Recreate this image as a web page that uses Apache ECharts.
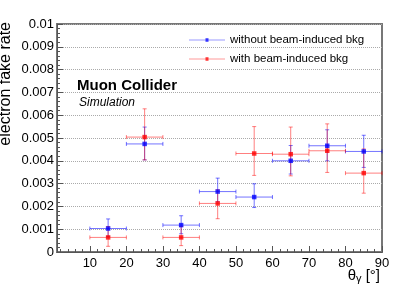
<!DOCTYPE html>
<html>
<head>
<meta charset="utf-8">
<script src="https://cdn.jsdelivr.net/npm/echarts@6/dist/echarts.min.js"></script>
<style>html,body{margin:0;padding:0;background:#fff;}#c{width:399px;height:288px;}</style>
</head>
<body>
<div id="c"></div>
<script>
// ---- data ----
var thetaCenters = [15, 25, 35, 45, 55, 65, 75, 85];
var binHalfWidth = [5, 5, 5, 5, 5, 5, 5, 5];
var noBkgRate     = [0.00103, 0.00474, 0.00118, 0.00265, 0.00241, 0.00400, 0.00466, 0.00441];
var noBkgErrUp    = [0.00042, 0.00074, 0.00041, 0.00059, 0.00058, 0.00067, 0.00070, 0.00071];
var noBkgErrDown  = [0.00035, 0.00070, 0.00038, 0.00045, 0.00046, 0.00058, 0.00066, 0.00070];
var withBkgRate    = [0.00064, 0.00504, 0.00064, 0.00213, 0.00432, 0.00429, 0.00444, 0.00346];
var withBkgErrUp   = [0.00048, 0.00124, 0.00048, 0.00060, 0.00118, 0.00119, 0.00118, 0.00106];
var withBkgErrDown = [0.00039, 0.00100, 0.00036, 0.00067, 0.00096, 0.00095, 0.00095, 0.00088];
var xMajorTicks = [10, 20, 30, 40, 50, 60, 70, 80, 90];
var xMinorTicks = [2, 4, 6, 8, 12, 14, 16, 18, 22, 24, 26, 28, 32, 34, 36, 38, 42, 44, 46, 48,
                   52, 54, 56, 58, 62, 64, 66, 68, 72, 74, 76, 78, 82, 84, 86, 88];
var seriesNames = ['without beam-induced bkg', 'with beam-induced bkg'];

var FONT = 'Liberation Sans, Arial, Helvetica, sans-serif';

function errData(rate, up, down) {
  return thetaCenters.map(function (x, i) {
    return [x, rate[i], x - binHalfWidth[i], x + binHalfWidth[i], rate[i] - down[i], rate[i] + up[i]];
  });
}
function pointData(rate) {
  return thetaCenters.map(function (x, i) { return [x, rate[i]]; });
}
function errRender(color) {
  return function (params, api) {
    var c = api.coord([api.value(0), api.value(1)]);
    var l = api.coord([api.value(2), api.value(1)]);
    var r = api.coord([api.value(3), api.value(1)]);
    var lo = api.coord([api.value(0), api.value(4)]);
    var hi = api.coord([api.value(0), api.value(5)]);
    var st = { stroke: color, lineWidth: 1 };
    var cap = 2;
    return {
      type: 'group',
      children: [
        { type: 'line', shape: { x1: l[0], y1: c[1], x2: r[0], y2: c[1] }, style: st },
        { type: 'line', shape: { x1: c[0], y1: lo[1], x2: c[0], y2: hi[1] }, style: st },
        { type: 'line', shape: { x1: l[0], y1: c[1] - cap, x2: l[0], y2: c[1] + cap }, style: st },
        { type: 'line', shape: { x1: r[0], y1: c[1] - cap, x2: r[0], y2: c[1] + cap }, style: st },
        { type: 'line', shape: { x1: c[0] - cap, y1: lo[1], x2: c[0] + cap, y2: lo[1] }, style: st },
        { type: 'line', shape: { x1: c[0] - cap, y1: hi[1], x2: c[0] + cap, y2: hi[1] }, style: st }
      ]
    };
  };
}

var chart = echarts.init(document.getElementById('c'), null, { renderer: 'canvas' });
var legendIcon = 'path://M0,3.2L36,3.2L36,3.8L0,3.8Z M16.5,1.8L19.5,1.8L19.5,5.2L16.5,5.2Z';

chart.setOption({
  animation: false,
  backgroundColor: '#fff',
  grid: { left: 57, right: 17, top: 24, bottom: 36, show: true, borderColor: '#777', borderWidth: 2, backgroundColor: 'transparent' },
  legend: {
    data: [{ name: seriesNames[0], icon: legendIcon }, { name: seriesNames[1], icon: legendIcon }],
    orient: 'vertical', left: 189, top: 34, padding: 0, itemGap: 7,
    itemWidth: 36, itemHeight: 7,
    textStyle: { fontFamily: FONT, fontSize: 11.5, color: '#000' }
  },
  xAxis: [{
    type: 'value', min: 1, max: 90,
    axisLine: { show: true, lineStyle: { color: '#555', width: 1 } },
    axisTick: { show: true, inside: true, length: 6, customValues: xMajorTicks, lineStyle: { color: '#555' } },
    axisLabel: { customValues: xMajorTicks, fontFamily: FONT, fontSize: 13, color: '#000', margin: 5 },
    splitLine: { show: false }
  }, {
    type: 'value', min: 1, max: 90, position: 'bottom',
    axisLine: { show: false },
    axisTick: { show: true, inside: true, length: 3, customValues: xMinorTicks, lineStyle: { color: '#555' } },
    axisLabel: { show: false },
    splitLine: { show: false }
  }],
  yAxis: {
    type: 'value', min: 0, max: 0.01, interval: 0.001,
    axisLine: { show: true, lineStyle: { color: '#555', width: 1 } },
    axisTick: { show: true, inside: true, length: 6, lineStyle: { color: '#555' } },
    minorTick: { show: true, splitNumber: 5, length: 3, lineStyle: { color: '#555' } },
    axisLabel: {
      fontFamily: FONT, fontSize: 13, color: '#000', margin: 3,
      formatter: function (v) { return String(parseFloat(v.toFixed(4))); }
    },
    splitLine: { show: true, lineStyle: { color: '#aaa', type: 'dotted', width: 1 } }
  },
  graphic: [
    { type: 'text', rotation: Math.PI / 2, x: 6, y: 22,
      style: { text: 'electron fake rate', font: '16px ' + FONT, fill: '#000', textAlign: 'right', textVerticalAlign: 'middle' } },
    { type: 'text', x: 77, y: 86,
      style: { text: 'Muon Collider', font: 'bold 15px ' + FONT, fill: '#000', textAlign: 'left', textVerticalAlign: 'middle' } },
    { type: 'text', x: 79, y: 103,
      style: { text: 'Simulation', font: 'italic 12px ' + FONT, fill: '#000', textAlign: 'left', textVerticalAlign: 'middle' } },
    { type: 'text', x: 380, y: 276,
      style: {
        text: '{t|θ}{s|γ}{t| [°]}', textAlign: 'right', textVerticalAlign: 'middle',
        rich: { t: { fontFamily: FONT, fontSize: 15, fill: '#000' }, s: { fontFamily: FONT, fontSize: 11, fill: '#000', padding: [6, 0, 0, 0] } }
      } }
  ],
  series: [
    { type: 'custom', name: seriesNames[0] + ' err', renderItem: errRender('rgba(0,0,255,0.55)'),
      data: errData(noBkgRate, noBkgErrUp, noBkgErrDown), encode: { x: 0, y: 1 }, z: 2, silent: true },
    { type: 'custom', name: seriesNames[1] + ' err', renderItem: errRender('rgba(255,0,0,0.5)'),
      data: errData(withBkgRate, withBkgErrUp, withBkgErrDown), encode: { x: 0, y: 1 }, z: 3, silent: true },
    { type: 'scatter', name: seriesNames[0], data: pointData(noBkgRate), symbol: 'rect', symbolSize: 4.5,
      itemStyle: { color: '#0000ff' }, z: 4 },
    { type: 'scatter', name: seriesNames[1], data: pointData(withBkgRate), symbol: 'rect', symbolSize: 4.5,
      itemStyle: { color: '#ff0000' }, z: 5 }
  ]
});
</script>
</body>
</html>
